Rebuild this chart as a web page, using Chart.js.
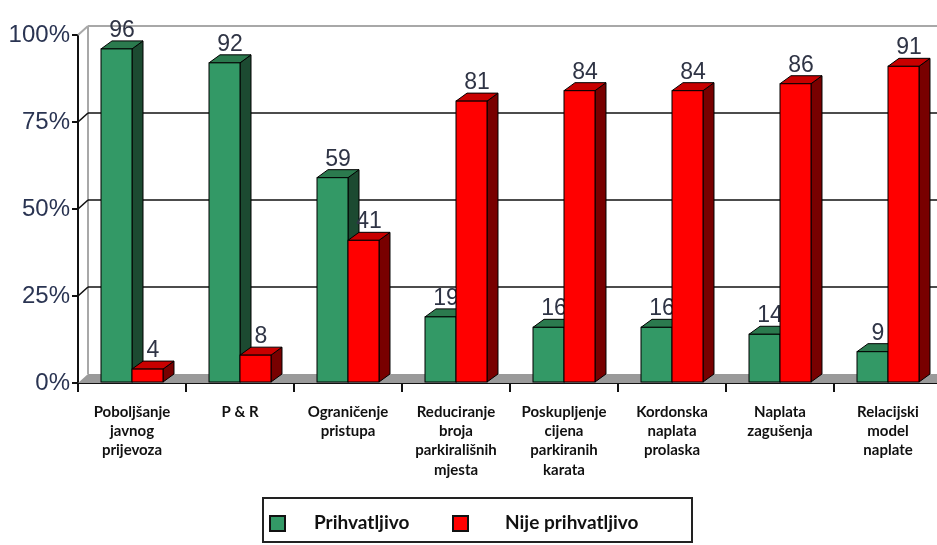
<!DOCTYPE html>
<html>
<head>
<meta charset="utf-8">
<script src="https://cdn.jsdelivr.net/npm/chart.js@4.4.1/dist/chart.umd.min.js"></script>
<style>
  html, body { margin: 0; padding: 0; background: #fff; overflow: hidden; width: 937px; height: 545px; }
  #wrap { position: absolute; left: 0; top: 0; width: 960px; height: 545px; }
</style>
</head>
<body>
<div id="wrap"><canvas id="c" width="960" height="545"></canvas></div>
<script>
// Category labels (one array entry per line)
const categories = [
  ['Poboljšanje', 'javnog', 'prijevoza'],
  ['P & R'],
  ['Ograničenje', 'pristupa'],
  ['Reduciranje', 'broja', 'parkirališnih', 'mjesta'],
  ['Poskupljenje', 'cijena', 'parkiranih', 'karata'],
  ['Kordonska', 'naplata', 'prolaska'],
  ['Naplata', 'zagušenja'],
  ['Relacijski', 'model', 'naplate']
];
const seriesNames = ['Prihvatljivo', 'Nije prihvatljivo'];
const prihvatljivo = [96, 92, 59, 19, 16, 16, 14, 9];
const nijePrihvatljivo = [4, 8, 41, 81, 84, 84, 86, 91];
const yTicks = [0, 25, 50, 75, 100];

// Face colours for the pseudo-3D columns: front, top, side
const faces = [
  { front: '#339966', top: '#2b7a4e', side: '#1c4a31' },
  { front: '#ff0000', top: '#c80000', side: '#780000' }
];

const WALL = { dx: 10, dy: -9 };   // depth offset of the back wall
const BAR = { dx: 11, dy: -8 };    // depth offset of each column

// Back wall, floor and gridlines drawn behind the columns
const wallPlugin = {
  id: 'wall',
  beforeDatasetsDraw(chart) {
    const { ctx, chartArea: a, scales: { y } } = chart;
    const y0 = y.getPixelForValue(0);
    ctx.save();
    // floor
    ctx.beginPath();
    ctx.moveTo(a.left, y0);
    ctx.lineTo(a.right, y0);
    ctx.lineTo(a.right + WALL.dx, y0 + WALL.dy);
    ctx.lineTo(a.left + WALL.dx, y0 + WALL.dy);
    ctx.closePath();
    ctx.fillStyle = '#9a9a9a';
    ctx.fill();
    // back-left edge of the wall
    const yTop = y.getPixelForValue(100);
    ctx.strokeStyle = '#a8a8a8';
    ctx.lineWidth = 2;
    ctx.beginPath();
    ctx.moveTo(a.left + WALL.dx, y0 + WALL.dy);
    ctx.lineTo(a.left + WALL.dx, yTop + WALL.dy);
    ctx.stroke();
    // gridlines on the wall and the short connectors on the side wall
    yTicks.forEach(v => {
      const py = y.getPixelForValue(v);
      if (v === 0) return;
      ctx.strokeStyle = v === 100 ? '#a8a8a8' : '#111';
      ctx.lineWidth = v === 100 ? 2 : 1.6;
      ctx.beginPath();
      ctx.moveTo(a.left + WALL.dx, py + WALL.dy);
      ctx.lineTo(a.right + WALL.dx, py + WALL.dy);
      ctx.stroke();
      ctx.beginPath();
      ctx.moveTo(a.left, py);
      ctx.lineTo(a.left + WALL.dx, py + WALL.dy);
      ctx.stroke();
    });
    ctx.restore();
  }
};

// Pseudo-3D columns: series are painted left to right so each red column
// covers the side of its green neighbour; labels follow their own series.
const columnPlugin = {
  id: 'columns3d',
  afterDatasetsDraw(chart) {
    const { ctx } = chart;
    chart.data.datasets.forEach((ds, di) => {
      const meta = chart.getDatasetMeta(di);
      const f = faces[di];
      ctx.save();
      ctx.lineWidth = 1;
      ctx.strokeStyle = '#000';
      meta.data.forEach(bar => {
        const p = bar.getProps(['x', 'y', 'base', 'width'], true);
        const l = p.x - p.width / 2, r = p.x + p.width / 2;
        // side
        ctx.beginPath();
        ctx.moveTo(r, p.y);
        ctx.lineTo(r + BAR.dx, p.y + BAR.dy);
        ctx.lineTo(r + BAR.dx, p.base + BAR.dy);
        ctx.lineTo(r, p.base);
        ctx.closePath();
        ctx.fillStyle = f.side;
        ctx.fill();
        ctx.stroke();
        // top
        ctx.beginPath();
        ctx.moveTo(l, p.y);
        ctx.lineTo(l + BAR.dx, p.y + BAR.dy);
        ctx.lineTo(r + BAR.dx, p.y + BAR.dy);
        ctx.lineTo(r, p.y);
        ctx.closePath();
        ctx.fillStyle = f.top;
        ctx.fill();
        ctx.stroke();
        // front
        ctx.fillStyle = f.front;
        ctx.fillRect(l, p.y, p.width, p.base - p.y);
        ctx.strokeRect(l, p.y, p.width, p.base - p.y);
      });
      // value labels
      ctx.font = '23px "Liberation Sans", Arial, sans-serif';
      ctx.fillStyle = '#2f3445';
      ctx.textAlign = 'center';
      ctx.textBaseline = 'alphabetic';
      meta.data.forEach((bar, i) => {
        const p = bar.getProps(['x', 'y'], true);
        ctx.fillText(String(ds.data[i]), p.x + BAR.dx / 2, p.y + BAR.dy - 4);
      });
      ctx.restore();
    });
  }
};

// Boxed legend under the axis
const legendPlugin = {
  id: 'boxLegend',
  afterDraw(chart) {
    const { ctx } = chart;
    ctx.save();
    ctx.strokeStyle = '#222';
    ctx.lineWidth = 2;
    ctx.strokeRect(263, 498, 429, 44);
    const items = [
      { box: 270, text: 314 },
      { box: 453, text: 505 }
    ];
    ctx.font = 'bold 19px Lato, "Open Sans", sans-serif';
    ctx.textBaseline = 'middle';
    ctx.textAlign = 'left';
    items.forEach((it, i) => {
      ctx.fillStyle = faces[i].front;
      ctx.fillRect(it.box, 516, 15, 15);
      ctx.strokeStyle = '#111';
      ctx.lineWidth = 2;
      ctx.strokeRect(it.box, 516, 15, 15);
      ctx.fillStyle = '#111';
      ctx.fillText(seriesNames[i], it.text, 523);
    });
    ctx.restore();
  }
};

new Chart(document.getElementById('c'), {
  type: 'bar',
  data: {
    labels: categories,
    datasets: [
      {
        label: seriesNames[0], data: prihvatljivo,
        backgroundColor: faces[0].front, borderColor: '#000', borderWidth: 1, borderSkipped: false,
        categoryPercentage: 0.574, barPercentage: 1.0
      },
      {
        label: seriesNames[1], data: nijePrihvatljivo,
        backgroundColor: faces[1].front, borderColor: '#000', borderWidth: 1, borderSkipped: false,
        categoryPercentage: 0.574, barPercentage: 1.0
      }
    ]
  },
  options: {
    responsive: false,
    animation: false,
    layout: { padding: { left: 0, top: 35, right: 18, bottom: 0 } },
    plugins: { legend: { display: false }, tooltip: { enabled: false } },
    scales: {
      x: {
        offset: true,
        grid: { offset: true, drawOnChartArea: false, drawTicks: true, tickLength: 9, color: '#111', lineWidth: 2 },
        border: { display: true, color: '#111', width: 2 },
        ticks: {
          padding: 11,
          maxRotation: 0, autoSkip: false,
          color: '#111',
          font: { family: 'Lato, "Open Sans", sans-serif', size: 15, weight: 'bold', lineHeight: 1.27 }
        },
        afterFit(scale) { scale.height = 162; }
      },
      y: {
        min: 0, max: 100,
        afterBuildTicks(scale) { scale.ticks = yTicks.map(v => ({ value: v })); },
        grid: { drawOnChartArea: false, drawTicks: true, tickLength: 6, color: '#111', lineWidth: 2 },
        border: { display: true, color: '#111', width: 2 },
        ticks: {
          padding: 2,
          color: '#2a3452',
          font: { family: '"Liberation Sans", Arial, sans-serif', size: 24 },
          callback: v => v + '%'
        },
        afterFit(scale) { scale.width = 78; }
      }
    }
  },
  plugins: [wallPlugin, columnPlugin, legendPlugin]
});
</script>
</body>
</html>
